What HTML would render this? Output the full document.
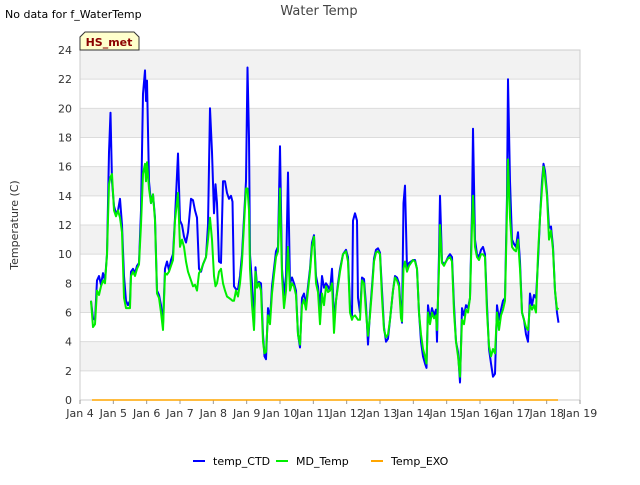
<!DOCTYPE html>
<html><head><meta charset="utf-8"><style>
body{margin:0;background:#fff;font-family:"Liberation Sans","DejaVu Sans",sans-serif}
svg text{font-family:"DejaVu Sans","Liberation Sans",sans-serif}
</style></head><body>
<svg id="chart" width="640" height="480" xmlns="http://www.w3.org/2000/svg">
<text x="319" y="15" text-anchor="middle" font-size="13" fill="#444">Water Temp</text>
<text x="5" y="18" font-size="11" fill="#000">No data for f_WaterTemp</text>
<g id="plot"></g>
<text transform="translate(18,225) rotate(-90)" text-anchor="middle" font-size="11" fill="#333">Temperature (C)</text>
<g>
<path d="M80,50 L80,37 L85,32 L134,32 L139,37 L139,50 Z" fill="#ffffcc" stroke="#333" stroke-width="1"/>
<text x="109" y="46" text-anchor="middle" font-size="11" font-weight="bold" fill="#8b0000">HS_met</text>
</g>
<g>
<g><line x1="193" y1="461" x2="205" y2="461" stroke="#0000ff" stroke-width="2"/><text x="213" y="465" font-size="11">temp_CTD</text></g>
<g><line x1="276" y1="461" x2="288" y2="461" stroke="#00ee00" stroke-width="2"/><text x="296" y="465" font-size="11">MD_Temp</text></g>
<g><line x1="371" y1="461" x2="383" y2="461" stroke="#ffa500" stroke-width="2"/><text x="391" y="465" font-size="11">Temp_EXO</text></g>
</g>
</svg>
<script>
const xTickLabels=["Jan 4","Jan 5","Jan 6","Jan 7","Jan 8","Jan 9","Jan 10","Jan 11","Jan 12","Jan 13","Jan 14","Jan 15","Jan 16","Jan 17","Jan 18","Jan 19"];
const yTicks=[0,2,4,6,8,10,12,14,16,18,20,22,24];
const times=[0.33,.39,.45,.51,.57,.63,.69,.75,.81,.87,.915,.96,1.02,1.08,1.14,1.20,1.26,1.32,1.38,1.44,1.50,1.53,1.59,1.65,1.71,1.77,1.83,1.89,1.95,1.98,2.01,2.07,2.13,2.19,2.25,2.31,2.37,2.43,2.49,2.55,2.61,2.67,2.73,2.79,2.85,2.94,3.00,3.06,3.12,3.18,3.24,3.33,3.39,3.45,3.51,3.57,3.63,3.69,3.78,3.84,3.90,3.96,4.02,4.065,4.11,4.17,4.23,4.29,4.35,4.41,4.47,4.53,4.575,4.62,4.68,4.74,4.80,4.86,4.92,4.98,5.025,5.07,5.10,5.16,5.22,5.265,5.31,5.37,5.43,5.49,5.535,5.58,5.64,5.70,5.76,5.82,5.88,5.94,6.00,6.06,6.12,6.18,6.24,6.30,6.36,6.42,6.48,6.54,6.60,6.66,6.72,6.78,6.84,6.90,6.96,7.02,7.08,7.14,7.20,7.26,7.32,7.38,7.44,7.50,7.56,7.62,7.68,7.74,7.80,7.89,7.98,8.04,8.10,8.16,8.19,8.25,8.31,8.34,8.40,8.46,8.52,8.58,8.64,8.70,8.76,8.82,8.88,8.94,9.00,9.06,9.12,9.18,9.24,9.30,9.39,9.45,9.51,9.57,9.63,9.66,9.705,9.75,9.81,9.87,9.93,9.99,10.05,10.11,10.17,10.23,10.29,10.35,10.395,10.44,10.50,10.56,10.62,10.68,10.71,10.77,10.80,10.86,10.92,10.98,11.04,11.10,11.16,11.22,11.28,11.34,11.40,11.46,11.52,11.58,11.64,11.70,11.76,11.79,11.85,11.91,11.97,12.03,12.09,12.15,12.21,12.27,12.33,12.39,12.45,12.51,12.57,12.63,12.69,12.75,12.81,12.84,12.90,12.96,13.02,13.08,13.14,13.20,13.26,13.32,13.38,13.44,13.50,13.56,13.62,13.68,13.74,13.80,13.86,13.905,13.95,14.01,14.07,14.13,14.19,14.25,14.31,14.355];
const tempCTD=[6.8,5.6,5.5,8.2,8.5,7.9,8.7,8.2,10,17,19.7,15,13.3,12.8,13.0,13.8,12.0,8.5,6.8,6.5,6.8,8.8,9.0,8.7,9.2,9.4,13,21,22.6,20.5,21.9,15,13.5,14.1,12.5,7.5,7.2,6.5,5.2,9.0,9.5,8.9,9.6,10,12.5,16.9,12.3,12.0,11.2,10.8,11.5,13.8,13.7,13.0,12.5,9.0,8.8,9.3,9.8,12,20,17,12.8,14.8,13.5,9.5,9.4,15,15.0,14.2,13.8,14.0,13.6,7.8,7.6,7.6,8.5,10,12.5,15,22.8,18,10,8,5,9.1,7.9,8.1,8.0,4.5,3.0,2.8,6.3,5.5,7.8,9.0,10.2,10.5,17.4,9.0,7.2,8.5,15.6,8.0,8.4,8.0,7.5,4.5,3.6,7.0,7.3,6.5,7.8,9.0,10.8,11.3,8.5,7.8,6.3,8.5,7.7,8.0,7.8,7.5,9.0,5.5,6.8,8.0,9.0,10,10.3,9.8,6.5,5.8,12.3,12.8,12.3,7.0,6.0,8.4,8.3,6.5,3.8,6.0,7.8,9.7,10.3,10.4,10.1,7.5,5.0,4.0,4.2,5.5,7.5,8.5,8.4,8.0,6.0,5.3,13.5,14.7,9.0,9.4,9.5,9.6,9.6,9.0,6.0,4.0,3.0,2.5,2.2,6.5,5.5,6.3,5.8,6.2,4.0,10,14,9.5,9.3,9.5,9.8,10,9.8,6.5,4.0,3.3,1.2,6.3,5.8,6.5,6.3,7.0,13,18.6,11,10.0,9.8,10.3,10.5,10.0,6.5,3.5,2.5,1.6,1.8,6.5,5.5,6.2,6.8,7.0,14,22.0,15,11,10.7,10.5,11.5,9.5,6.0,5.5,4.5,4.0,7.3,6.5,7.2,7.0,9.5,12.5,15,16.2,15.7,14.2,11.8,11.9,10.5,7.5,6.0,5.3];
const mdTemp=[6.8,5.0,5.2,7.5,7.2,7.8,8.2,8.0,10,14.8,15.3,15.5,13.0,12.6,13.0,12.5,11.5,7.0,6.3,6.3,6.3,8.5,8.8,8.5,9.0,9.3,12,15.5,16.2,15,16.3,14.5,13.5,14.1,12.3,7.3,7.0,6.0,4.8,8.7,8.6,8.8,9.2,9.6,12.3,14.2,10.5,11.0,10.5,9.5,8.8,8.2,7.8,7.9,7.5,8.7,8.9,9.3,9.8,11,12.5,11,8.5,7.8,8.0,8.8,9.0,8,7.5,7.1,7.0,6.9,6.8,6.8,7.5,7.1,8.0,9.5,12,14.5,14.5,13,9,6.5,4.8,8.8,7.7,8.0,7.5,4.0,3.2,3.3,5.8,5.2,7.3,8.6,9.8,10.2,14.5,8.5,6.3,7.5,10.5,7.5,8.0,7.8,7.2,4.5,3.8,6.5,6.9,6.2,7.5,8.8,10.5,11.2,8.0,7.4,5.2,7.3,6.5,7.8,7.4,7.5,8.0,4.6,6.8,7.8,8.8,10,10.2,9.5,6.0,5.5,5.7,5.8,5.6,5.5,5.5,8.2,8.0,6.0,4.4,5.8,7.5,9.5,10.1,10.2,10.0,7.0,4.8,4.3,4.5,5.5,7.5,8.4,8.2,7.8,5.6,5.4,9.0,9.5,8.8,9.2,9.4,9.6,9.5,9.0,6.0,4.5,3.5,3.0,2.5,6.0,5.2,6.0,5.6,5.8,4.8,9.0,12,9.4,9.2,9.5,9.7,9.8,9.5,6.0,4.0,3.0,1.6,5.5,5.2,6.2,6.0,7.0,12,14.0,10.5,9.8,9.6,10.0,10.0,9.8,6.0,3.7,3.0,3.5,3.2,6.0,4.8,5.8,6.2,6.8,13,16.5,12.5,10.5,10.3,10.2,11.0,9.0,6.0,5.5,5.0,4.8,6.5,6.2,6.5,6.0,10.0,12.5,14.5,16.0,15.3,14.0,11.0,11.6,10.3,7.5,6.2,6.3];
const exoTimes=[0.36,14.34];
const exoTemp=[0,0];

const NS="http://www.w3.org/2000/svg";
const L=80,R=580,T=50,B=400;
const xs=d=>L+d*(R-L)/15;
const ys=v=>B-v*(B-T)/24;
const g=document.getElementById('plot');
function mk(tag,attrs,parent){const e=document.createElementNS(NS,tag);for(const k in attrs)e.setAttribute(k,attrs[k]);(parent||g).appendChild(e);return e;}
// bands
for(let i=0;i<yTicks.length-1;i++){
  if(yTicks[i]%4===2){
    const r=mk('rect',{x:L,y:ys(yTicks[i+1]),width:R-L,height:ys(yTicks[i])-ys(yTicks[i+1]),fill:'#f2f2f2'});
    
    
  }
}
yTicks.forEach(v=>{
  const ln=mk('line',{x1:L,x2:R,y1:ys(v),y2:ys(v),stroke:'#dcdcdc','stroke-width':1});
  
  
  const t=mk('text',{x:L-8,y:ys(v)+4,'text-anchor':'end','font-size':11,fill:'#333'});
  t.textContent=v;
  
  
});
const fr=mk('rect',{x:L,y:T,width:R-L,height:B-T,fill:'none',stroke:'#cccccc'});


xTickLabels.forEach((lab,i)=>{
  const tk=mk('line',{x1:xs(i),x2:xs(i),y1:B,y2:B+4,stroke:'#999'});
  
  
  const t=mk('text',{x:xs(i),y:B+17,'text-anchor':'middle','font-size':11,fill:'#333'});
  t.textContent=lab;
  
  
});
function series(tt,vv,color,name,w){
  const d=tt.map((t,i)=>(i?'L':'M')+xs(t).toFixed(1)+','+ys(vv[i]).toFixed(1)).join(' ');
  const p=mk('path',{d:d,fill:'none',stroke:color,'stroke-width':w,'stroke-linejoin':'round'});
  
  
}
series(times,tempCTD,'#0000ff','temp-ctd-line',2);
series(times,mdTemp,'#00ee00','md-temp-line',2);
series(exoTimes,exoTemp,'#ffa500','temp-exo-line',1.5);
</script>
</body></html>
